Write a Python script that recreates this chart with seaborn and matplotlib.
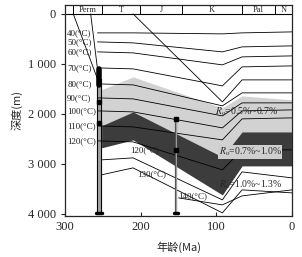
import matplotlib
matplotlib.use("Agg")
import numpy as np
import matplotlib.pyplot as plt
import seaborn as sns

# ---- data (age in Ma, depth in m) ----
node_age = [257, 210, 92, 66, 0]
isotherms = {
    40: [380, 380, 400, 380, 360],
    50: [560, 580, 760, 660, 640],
    60: [760, 780, 1020, 860, 840],
    70: [1080, 1100, 1440, 1060, 1040],
    80: [1400, 1420, 1840, 1580, 1580],
    90: [1680, 1700, 2040, 1780, 1780],
    100: [1940, 1960, 2280, 1940, 1920],
    110: [2240, 2260, 2520, 2100, 2080],
    120: [2540, 2560, 3120, 2720, 2720],
}
iso_130_age = [252, 210, 92, 66, 0]
iso_130 = [2920, 2880, 3720, 3160, 3280]
iso_140_age = [150, 92, 66, 0]
iso_140 = [3680, 3820, 3640, 3520]

zone_age = [252, 210, 92, 66, 0]
ro_05 = [1520, 1260, 1880, 1640, 1720]
ro_07 = [2240, 1960, 2860, 2360, 2360]
ro_10 = [2680, 2520, 3620, 3040, 3040]
ro_13 = [3220, 3080, 3980, 3520, 3580]

burial_j_age = [210, 92, 66, 0]
burial_j = [0, 1760, 1320, 1320]
perm1_age = [289, 257]
perm1 = [0, 1300]
perm2_age = [266, 257]
perm2 = [0, 1100]

well1_age = [257.5, 252.3]
well1_top, well1_bot = 1300, 3980
well1_dots = [1760, 2180]
well2_age = 153
well2_top, well2_bot = 2100, 3980
well2_dots = [2100, 2720]

strat_bounds = [289, 251, 201, 145, 66, 23, 0]
strat_names = ["Perm", "T", "J", "K", "Pal", "N"]

xticks = [300, 200, 100, 0]
yticks = [0, 1000, 2000, 3000, 4000]
ytick_labels = ["0", "1 000", "2 000", "3 000", "4 000"]

sns.set_style("ticks")
plt.rcParams['font.family'] = ['Liberation Serif', 'Noto Sans CJK SC', 'DejaVu Sans']
plt.rcParams['mathtext.fontset'] = 'stix'

fig = plt.figure(figsize=(3.02, 2.57), dpi=100)
ax = fig.add_axes([0.215, 0.16, 0.752, 0.821])

# maturity zones
ax.fill_between(zone_age, ro_05, ro_07, color='#d2d2d2', lw=0, zorder=1)
ax.fill_between(zone_age, ro_07, ro_10, color='#3c3c3c', lw=0, zorder=1)

lw = 0.6
for t, d in isotherms.items():
    sns.lineplot(x=node_age, y=d, color='k', lw=lw, ax=ax, sort=False, zorder=3)
    ax.text(297, d[0], f"{t}(°C)", fontsize=6.5, va='center', ha='left', color='#222', zorder=4)
for xa, ya in [(iso_130_age, iso_130), (iso_140_age, iso_140), (zone_age, ro_13),
               (burial_j_age, burial_j), (perm1_age, perm1), (perm2_age, perm2)]:
    sns.lineplot(x=xa, y=ya, color='k', lw=lw, ax=ax, sort=False, zorder=3)

ax.text(214, 2720, "120(°C)", fontsize=6.5, va='center', ha='left', color='#222')
ax.text(205, 3200, "130(°C)", fontsize=6.5, va='center', ha='left', color='#222')
ax.text(150, 3640, "140(°C)", fontsize=6.5, va='center', ha='left', color='#222')

ax.text(102, 1960, r"$R_\mathrm{o}$=0.5%~0.7%", fontsize=7, va='center', ha='left')
ax.text(97, 2760, r"$R_\mathrm{o}$=0.7%~1.0%", fontsize=7, va='center', ha='left',
        bbox=dict(facecolor='#cfcfcf', edgecolor='none', pad=0.3))
ax.text(97, 3420, r"$R_\mathrm{o}$=1.0%~1.3%", fontsize=7, va='center', ha='left')

# wells
ax.fill_betweenx([well1_top, well1_bot], well1_age[0], well1_age[1], color='#a0a0a0', zorder=2)
for a in well1_age:
    ax.plot([a, a], [well1_top, well1_bot], color='k', lw=0.7, zorder=3)
ax.plot([np.mean(well1_age)] * 2, [1100, 1420], color='k', lw=4, zorder=4)
ax.plot(np.mean(well1_age), well1_dots[0], 'ks', ms=2.5, zorder=4)
ax.plot(np.mean(well1_age), well1_dots[1], 'ks', ms=2.5, zorder=4)
ax.plot([259, 251], [well1_bot, well1_bot], color='k', lw=2.5, zorder=4)

ax.plot([well2_age, well2_age], [well2_top, well2_bot], color='#555', lw=1.6, zorder=3)
ax.plot([well2_age, well2_age], [well2_top, well2_bot], color='#bbb', lw=0.5, zorder=3)
ax.plot([well2_age] * 2, well2_dots, 'ks', ms=2.5, lw=0, zorder=4)
ax.plot([well2_age - 3, well2_age + 3], [well2_bot, well2_bot], color='k', lw=2.5, zorder=4)

# stratigraphic band
ax.axhline(0, color='k', lw=0.8)
for b in strat_bounds[:-1]:
    ax.plot([b, b], [-180, 0], color='k', lw=0.7)
for i, name in enumerate(strat_names):
    mid = (strat_bounds[i] + strat_bounds[i + 1]) / 2
    ax.text(mid, -85, name, fontsize=6, ha='center', va='center')

ax.set_xlim(300, 0)
ax.set_ylim(4040, -180)
ax.set_xticks(xticks)
ax.set_yticks(yticks)
ax.set_yticklabels(ytick_labels)
ax.tick_params(axis='x', direction='in', length=3, labelsize=9, pad=4)
ax.tick_params(axis='y', direction='out', length=3, labelsize=9)
for s in ax.spines.values():
    s.set_linewidth(0.9)
    s.set_visible(True)
ax.set_xlabel("年龄(Ma)", fontsize=8, family=['Noto Sans CJK SC'], labelpad=6)
ax.set_ylabel("深度(m)", fontsize=8, family=['Noto Sans CJK SC'], labelpad=4)

fig.savefig("out.png", dpi=100)
